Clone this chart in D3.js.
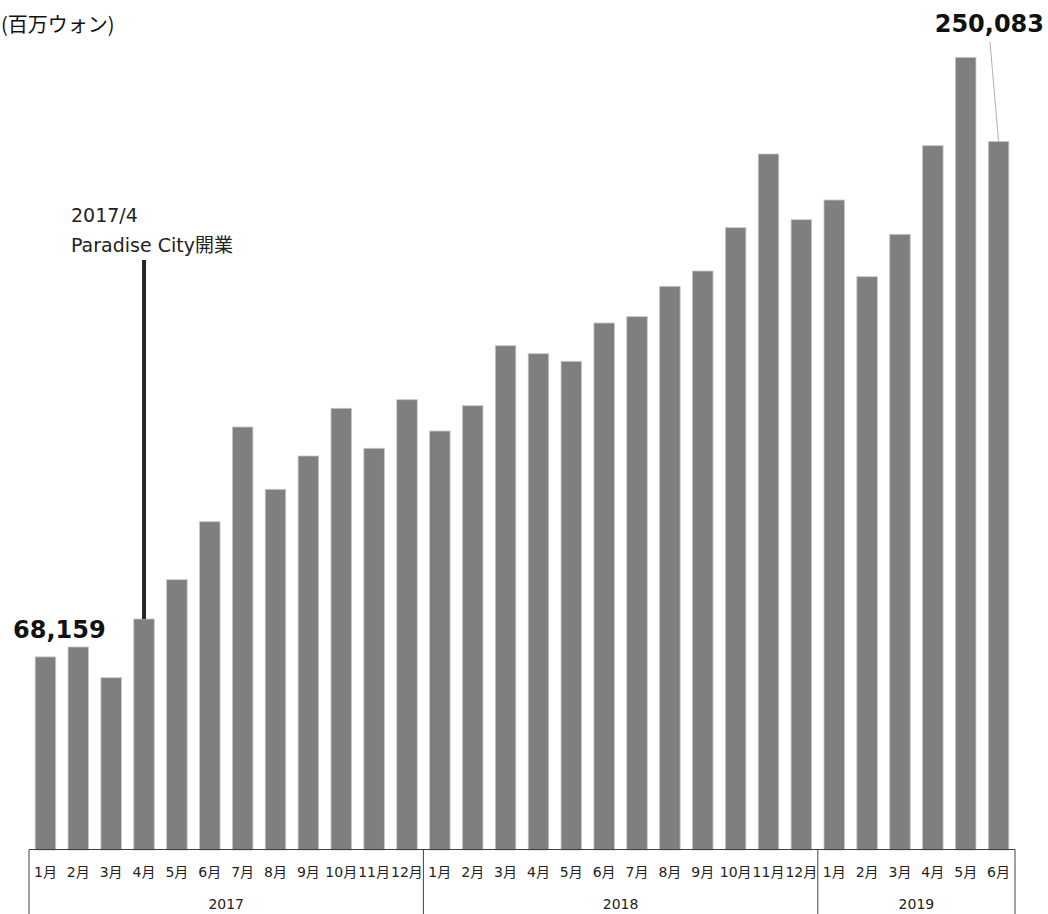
<!DOCTYPE html>
<html>
<head>
<meta charset="utf-8">
<script src="https://cdn.jsdelivr.net/npm/d3@7"></script>
<style>
  body { margin: 0; background: #fff; }
  text { font-family: "DejaVu Sans", "Noto Sans CJK JP", sans-serif; }
</style>
</head>
<body>
<script>
// Monthly values (百万ウォン), 2017/1 - 2019/6
const years = ["2017", "2018", "2019"];
const yearMonths = [12, 12, 6];
const monthLabels = [
  "1月", "2月", "3月", "4月", "5月", "6月", "7月", "8月", "9月", "10月", "11月", "12月",
  "1月", "2月", "3月", "4月", "5月", "6月", "7月", "8月", "9月", "10月", "11月", "12月",
  "1月", "2月", "3月", "4月", "5月", "6月"
];
const values = [
  68159, 71650, 60810, 81530, 95400, 115870, 149290, 127310, 139060, 155890, 141780, 158930,
  147880, 156810, 177990, 175160, 172480, 186000, 188230, 198950, 204350, 219640, 245650, 222460,
  229410, 202340, 217310, 248580, 279770, 250083
];

const width = 1048, height = 914;
const baseY = 850;

const svg = d3.select("body").append("svg")
  .attr("width", width)
  .attr("height", height);

const x = d3.scaleBand()
  .domain(d3.range(values.length))
  .range([29, 1015])
  .paddingInner(0.376)
  .paddingOuter(0.188);

const y = d3.scaleLinear()
  .domain([0, 300000])
  .range([baseY, 0]);

// Unit label
svg.append("text")
  .attr("x", 1)
  .attr("y", 32)
  .style("font-size", "20px")
  .style("font-family", "'Noto Sans CJK JP', sans-serif")
  .attr("fill", "#111")
  .text("(百万ウォン)");

// Bars
svg.selectAll(".bar")
  .data(values)
  .enter()
  .append("rect")
  .attr("class", "bar")
  .attr("x", (d, i) => x(i))
  .attr("y", d => y(d))
  .attr("width", x.bandwidth())
  .attr("height", d => baseY - y(d))
  .attr("fill", "#7f7f7f")
  .attr("stroke", "#c8c8c8")
  .attr("stroke-width", 0.8);

// Category box: baseline and year separators
const step = x.step();
const x0 = x.range()[0];
svg.append("line")
  .attr("x1", x0).attr("x2", x.range()[1])
  .attr("y1", baseY - 0.5).attr("y2", baseY - 0.5)
  .attr("stroke", "#404040").attr("stroke-width", 1);

const bounds = [0];
yearMonths.forEach(n => bounds.push(bounds[bounds.length - 1] + n));
svg.selectAll(".sep")
  .data(bounds)
  .enter()
  .append("line")
  .attr("x1", d => x0 + d * step)
  .attr("x2", d => x0 + d * step)
  .attr("y1", baseY - 0.5)
  .attr("y2", height)
  .attr("stroke", "#404040")
  .attr("stroke-width", 1);

// Month labels
svg.selectAll(".mlabel")
  .data(monthLabels)
  .enter()
  .append("text")
  .attr("x", (d, i) => x(i) + x.bandwidth() / 2)
  .attr("y", 877)
  .attr("text-anchor", "middle")
  .style("font-size", "14px")
  .attr("fill", "#222")
  .text(d => d);

// Year labels
svg.selectAll(".ylabel")
  .data(years)
  .enter()
  .append("text")
  .attr("x", (d, i) => x0 + (bounds[i] + bounds[i + 1]) / 2 * step)
  .attr("y", 909)
  .attr("text-anchor", "middle")
  .style("font-size", "14px")
  .attr("fill", "#222")
  .text(d => d);

// First and last value labels
const fmt = d3.format(",");
svg.append("text")
  .attr("x", 13)
  .attr("y", 638)
  .style("font-size", "24px")
  .style("font-weight", "bold")
  .attr("fill", "#111")
  .text(fmt(values[0]));

const last = values.length - 1;
svg.append("text")
  .attr("x", 1044)
  .attr("y", 32)
  .attr("text-anchor", "end")
  .style("font-size", "24px")
  .style("font-weight", "bold")
  .attr("fill", "#111")
  .text(fmt(values[last]));

svg.append("line")
  .attr("x1", 990).attr("y1", 42)
  .attr("x2", x(last) + x.bandwidth() / 2).attr("y2", y(values[last]))
  .attr("stroke", "#b0b0b0")
  .attr("stroke-width", 1);

// Paradise City opening annotation (2017/4)
const apr = 3;
svg.append("line")
  .attr("x1", x(apr) + x.bandwidth() / 2).attr("x2", x(apr) + x.bandwidth() / 2)
  .attr("y1", 260)
  .attr("y2", y(values[apr]))
  .attr("stroke", "#262626")
  .attr("stroke-width", 4);

svg.append("text")
  .attr("x", 71)
  .attr("y", 222)
  .style("font-size", "19px")
  .attr("fill", "#222")
  .text("2017/4");

svg.append("text")
  .attr("x", 71)
  .attr("y", 252)
  .style("font-size", "19px")
  .attr("fill", "#222")
  .text("Paradise City開業");
</script>
</body>
</html>
